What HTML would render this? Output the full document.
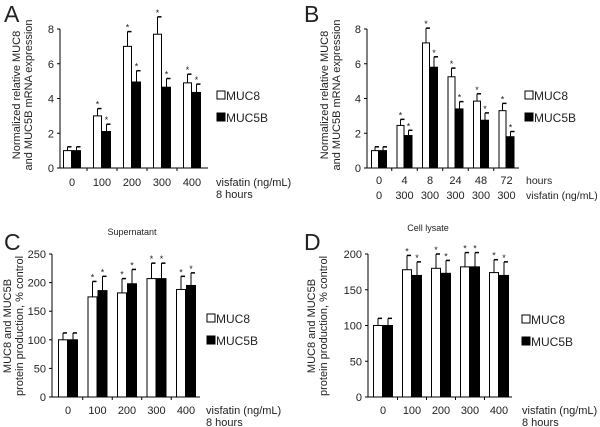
<!DOCTYPE html>
<html><head><meta charset="utf-8"><style>
html,body{margin:0;padding:0;background:#fff}
svg{display:block}
text{font-family:"Liberation Sans",sans-serif;fill:#222}
</style></head><body>
<svg id="s" width="600" height="427" viewBox="0 0 600 427">
<text x="4" y="22" font-size="23">A</text>
<text x="304" y="22" font-size="23">B</text>
<text x="4" y="250" font-size="23">C</text>
<text x="304" y="250" font-size="23">D</text>
<g font-size="11" fill="#444">
<text transform="translate(20,95) rotate(-90)" text-anchor="middle" font-size="11">Normalized relative MUC8</text>
<text transform="translate(32,95) rotate(-90)" text-anchor="middle" font-size="11">and MUC5B mRNA expression</text>
<text transform="translate(328,95) rotate(-90)" text-anchor="middle" font-size="11">Normalized relative MUC8</text>
<text transform="translate(340,95) rotate(-90)" text-anchor="middle" font-size="11">and MUC5B mRNA expression</text>
<text transform="translate(11,326) rotate(-90)" text-anchor="middle" font-size="11">MUC8 and MUC5B</text>
<text transform="translate(23,326) rotate(-90)" text-anchor="middle" font-size="11">protein production, % control</text>
<text transform="translate(315,326) rotate(-90)" text-anchor="middle" font-size="11">MUC8 and MUC5B</text>
<text transform="translate(327,326) rotate(-90)" text-anchor="middle" font-size="11">protein production, % control</text>
</g>
<g font-size="11">
<text x="216" y="186">visfatin (ng/mL)</text><text x="216" y="198">8 hours</text>
<text x="526" y="184" font-size="10.5">hours</text><text x="526" y="199" font-size="10.5">visfatin (ng/mL)</text>
<text x="206" y="414">visfatin (ng/mL)</text><text x="206" y="426">8 hours</text>
<text x="522" y="414">visfatin (ng/mL)</text><text x="522" y="426">8 hours</text>
<text x="132" y="235" text-anchor="middle" font-size="9">Supernatant</text>
<text x="428" y="231" text-anchor="middle" font-size="9">Cell lysate</text>
</g>
<g id="g"></g>
</svg>
<script>
var g=document.getElementById('g'),NS='http://www.w3.org/2000/svg';
function el(t,a,txt){var e=document.createElementNS(NS,t);for(var k in a)e.setAttribute(k,a[k]);if(txt!=null)e.textContent=txt;g.appendChild(e);return e;}
function panel(p){
  var sc=(p.y0-p.yt)/p.max;
  el('line',{x1:p.ax,y1:p.y0,x2:p.ax,y2:p.yt,stroke:'#000','stroke-width':1});
  el('line',{x1:p.ax,y1:p.y0,x2:p.ae,y2:p.y0,stroke:'#000','stroke-width':1});
  p.ticks.forEach(function(v){var y=p.y0-v*sc;el('line',{x1:p.ax-3,y1:y,x2:p.ax,y2:y,stroke:'#000'});
    el('text',{x:p.ax-6,y:y+4,'text-anchor':'end','font-size':11},String(v));});
  var n=p.w.length;
  for(var i=0;i<n;i++){var c=p.c0+i*p.sp;
    if(i>0){var tx=c-p.sp/2;el('line',{x1:tx,y1:p.y0,x2:tx,y2:p.y0+3,stroke:'#000'});}
    p.lab[i].forEach(function(l,j){el('text',{x:c,y:p.ly+j*15,'text-anchor':'middle','font-size':11},l);});
    [[p.w[i],p.we[i],c-p.bw,'#fff'],[p.k[i],p.ke[i],c,'#000']].forEach(function(b,j){
      var top=p.y0-b[0]*sc,et=p.y0-(b[0]+b[1])*sc,bx=b[2],mx=bx+p.bw/2;
      el('line',{x1:mx,y1:top,x2:mx,y2:et,stroke:'#000'});
      el('line',{x1:mx,y1:et,x2:mx+4,y2:et,stroke:'#000','stroke-width':1.5});
      el('rect',{x:bx+0.5,y:top,width:p.bw-1,height:p.y0-top,fill:b[3],stroke:'#000'});
      if(i>0)el('text',{x:mx,y:et-1,'text-anchor':'middle','font-size':9},'*');
    });
  }
  el('rect',{x:p.lx,y:p.lgy-9,width:8,height:8,fill:'#fff',stroke:'#000'});
  el('text',{x:p.lx+9,y:p.lgy,'font-size':12},'MUC8');
  el('rect',{x:p.lx,y:p.lgy+13,width:8,height:8,fill:'#000',stroke:'#000'});
  el('text',{x:p.lx+9,y:p.lgy+22,'font-size':12},'MUC5B');
}
panel({ax:60,ae:208,y0:168,yt:29,max:8,ticks:[0,2,4,6,8],c0:72,sp:30,bw:9,ly:186,
 lab:[['0'],['100'],['200'],['300'],['400']],
 w:[1,3,7,7.7,4.9],we:[0.22,0.42,0.85,1,0.5],k:[1,2.1,4.95,4.65,4.35],ke:[0.22,0.42,0.65,0.5,0.48],lx:217,lgy:100});
panel({ax:367,ae:519,y0:168,yt:29,max:8,ticks:[0,2,4,6,8],c0:379,sp:25.5,bw:8,ly:184,
 lab:[['0','0'],['4','300'],['8','300'],['24','300'],['48','300'],['72','300']],
 w:[1,2.45,7.2,5.25,3.85,3.3],we:[0.22,0.35,0.85,0.5,0.42,0.42],k:[1,1.87,5.8,3.4,2.75,1.8],ke:[0.22,0.3,0.6,0.42,0.42,0.3],lx:525,lgy:100});
panel({ax:52,ae:200,y0:397,yt:254,max:250,ticks:[0,50,100,150,200,250],c0:68,sp:29.5,bw:10,ly:414,
 lab:[['0'],['100'],['200'],['300'],['400']],
 w:[100,175,182,207,188],we:[12,27,25,27,23],k:[100,186,198,207,195],ke:[12,25,25,27,22],lx:207,lgy:323});
panel({ax:368,ae:512,y0:397,yt:254,max:200,ticks:[0,50,100,150,200],c0:383,sp:29,bw:10,ly:414,
 lab:[['0'],['100'],['200'],['300'],['400']],
 w:[100,178,180,182,174],we:[10,20,20,20,18],k:[100,170,173,182,170],ke:[10,19,18,20,19],lx:522,lgy:324});
</script>
</body></html>
